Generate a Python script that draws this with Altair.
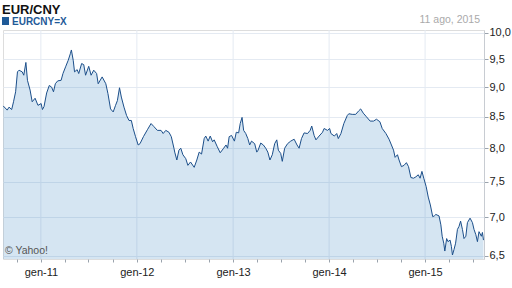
import altair as alt
import pandas as pd

dates = [
    "2010-08-11", "2010-08-26", "2010-09-02", "2010-09-12", "2010-09-19", "2010-09-27",
    "2010-10-04", "2010-10-10", "2010-10-22", "2010-10-28", "2010-11-05", "2010-11-11",
    "2010-11-21", "2010-11-29", "2010-12-10", "2010-12-21", "2011-01-02", "2011-01-07",
    "2011-01-13", "2011-01-23", "2011-02-02", "2011-02-11", "2011-02-18", "2011-02-25",
    "2011-03-06", "2011-03-19", "2011-03-26", "2011-04-05", "2011-04-15", "2011-04-23",
    "2011-04-27", "2011-05-04", "2011-05-09", "2011-05-19", "2011-05-25", "2011-06-05",
    "2011-06-13", "2011-06-20", "2011-07-02", "2011-07-11", "2011-07-21", "2011-08-01",
    "2011-08-07", "2011-08-22", "2011-09-05", "2011-09-13", "2011-09-23", "2011-10-03",
    "2011-10-12", "2011-10-19", "2011-10-27", "2011-11-03", "2011-11-13", "2011-11-23",
    "2011-12-02", "2011-12-11", "2011-12-18", "2011-12-27", "2012-01-06", "2012-01-13",
    "2012-01-26", "2012-02-10", "2012-02-24", "2012-03-06", "2012-03-19", "2012-04-02",
    "2012-04-10", "2012-04-20", "2012-05-02", "2012-05-11", "2012-05-21", "2012-05-24",
    "2012-06-01", "2012-06-09", "2012-06-16", "2012-06-24", "2012-07-05", "2012-07-13",
    "2012-07-23", "2012-08-06", "2012-08-16", "2012-08-25", "2012-09-03", "2012-09-13",
    "2012-09-19", "2012-09-28", "2012-10-06", "2012-10-15", "2012-10-21", "2012-11-01",
    "2012-11-13", "2012-11-26", "2012-12-05", "2012-12-11", "2012-12-17", "2012-12-26",
    "2013-01-06", "2013-01-13", "2013-01-22", "2013-01-28", "2013-02-04", "2013-02-10",
    "2013-02-18", "2013-02-26", "2013-03-05", "2013-03-12", "2013-03-24", "2013-04-01",
    "2013-04-06", "2013-04-16", "2013-04-26", "2013-05-05", "2013-05-13", "2013-05-21",
    "2013-05-30", "2013-06-08", "2013-06-16", "2013-06-22", "2013-07-01", "2013-07-07",
    "2013-07-16", "2013-07-27", "2013-08-08", "2013-08-21", "2013-09-01", "2013-09-09",
    "2013-09-18", "2013-09-28", "2013-10-11", "2013-10-21", "2013-10-27", "2013-11-05",
    "2013-11-12", "2013-11-24", "2013-12-07", "2013-12-13", "2013-12-26", "2014-01-03",
    "2014-01-08", "2014-01-21", "2014-01-30", "2014-02-05", "2014-02-15", "2014-02-26",
    "2014-03-11", "2014-03-17", "2014-03-30", "2014-04-12", "2014-04-24", "2014-05-01",
    "2014-05-11", "2014-05-23", "2014-06-06", "2014-06-19", "2014-06-30", "2014-07-13",
    "2014-07-22", "2014-08-05", "2014-08-17", "2014-08-26", "2014-09-03", "2014-09-09",
    "2014-09-18", "2014-09-24", "2014-10-03", "2014-10-13", "2014-10-22", "2014-10-30",
    "2014-11-08", "2014-11-18", "2014-11-27", "2014-12-06", "2014-12-13", "2014-12-20",
    "2014-12-27", "2015-01-05", "2015-01-13", "2015-01-21", "2015-01-30", "2015-02-05",
    "2015-02-11", "2015-02-23", "2015-03-02", "2015-03-07", "2015-03-13", "2015-03-17",
    "2015-03-24", "2015-03-29", "2015-04-06", "2015-04-11", "2015-04-15", "2015-04-21",
    "2015-04-27", "2015-05-04", "2015-05-10", "2015-05-16", "2015-05-23", "2015-05-29",
    "2015-06-05", "2015-06-11", "2015-06-21", "2015-06-30", "2015-07-06", "2015-07-13",
    "2015-07-19", "2015-07-25", "2015-08-03", "2015-08-07", "2015-08-11",
]

values = [
    8.68, 8.61, 8.66, 8.62, 8.75, 8.92,
    9.27, 9.30, 9.27, 9.21, 9.44, 9.12,
    8.95, 8.75, 8.81, 8.69, 8.72, 8.62,
    8.67, 8.90, 9.03, 9.00, 8.92, 9.06,
    9.11, 9.12, 9.24, 9.36, 9.48, 9.60,
    9.67, 9.48, 9.27, 9.31, 9.24, 9.42,
    9.40, 9.21, 9.37, 9.21, 9.30, 9.24,
    9.06, 9.18, 9.06, 8.89, 8.63, 8.58,
    8.69, 8.77, 8.99, 8.83, 8.66, 8.52,
    8.44, 8.44, 8.31, 8.18, 8.05, 8.07,
    8.18, 8.29, 8.39, 8.34, 8.28, 8.28,
    8.23, 8.28, 8.25, 8.18, 8.00, 7.94,
    7.82, 7.97, 8.00, 7.90, 7.84, 7.74,
    7.79, 7.71, 7.82, 7.94, 7.91, 8.15,
    8.19, 8.11, 8.19, 8.10, 8.13, 8.03,
    7.93, 8.00, 8.05, 8.00, 8.18, 8.20,
    8.11, 8.25, 8.24, 8.39, 8.49, 8.28,
    8.23, 8.15, 8.05, 8.11, 8.07, 7.94,
    7.97, 8.08, 8.05, 8.00, 7.94, 7.82,
    7.90, 8.07, 8.13, 7.97, 7.92, 7.80,
    8.00, 8.07, 8.11, 8.14, 8.05, 8.00,
    8.15, 8.24, 8.23, 8.28, 8.35, 8.20,
    8.13, 8.19, 8.25, 8.31, 8.28, 8.31,
    8.23, 8.19, 8.23, 8.15, 8.23, 8.39,
    8.52, 8.55, 8.54, 8.54, 8.60, 8.63,
    8.56, 8.50, 8.43, 8.43, 8.46, 8.42,
    8.31, 8.23, 8.14, 8.05, 7.97, 7.86,
    7.90, 7.82, 7.72, 7.74, 7.78, 7.72,
    7.56, 7.55, 7.57, 7.60, 7.55, 7.65,
    7.55, 7.43, 7.28, 7.17, 7.01, 7.02,
    7.04, 7.02, 6.90, 6.75, 6.66, 6.56,
    6.72, 6.68, 6.70, 6.62, 6.51, 6.58,
    6.66, 6.84, 6.88, 6.95, 6.84, 6.72,
    6.75, 6.93, 6.99, 6.93, 6.84, 6.77,
    6.68, 6.81, 6.75, 6.80, 6.70,
]

year_starts = ["2011-01-01", "2012-01-01", "2013-01-01", "2014-01-01", "2015-01-01"]
quarter_ticks = [
    "2010-10-01", "2011-01-01", "2011-04-01", "2011-07-01", "2011-10-01",
    "2012-01-01", "2012-04-01", "2012-07-01", "2012-10-01",
    "2013-01-01", "2013-04-01", "2013-07-01", "2013-10-01",
    "2014-01-01", "2014-04-01", "2014-07-01", "2014-10-01",
    "2015-01-01", "2015-04-01", "2015-07-01",
]
y_ticks = [6.5, 7.0, 7.5, 8.0, 8.5, 9.0, 9.5, 10.0]
y_min, y_max = 6.46, 10.05

title_text = "EUR/CNY"
legend_text = "EURCNY=X"
date_text = "11 ago, 2015"
credit_text = "© Yahoo!"

FONT = "Liberation Sans"
LINE = "#1c4f8a"
FILL = "#2f7bbf"
GRID = "#e4eaf2"

df = pd.DataFrame({"date": pd.to_datetime(dates), "value": values})
years_df = pd.DataFrame({"date": pd.to_datetime(year_starts)})


def dt(s):
    y, m, d = (int(p) for p in s.split("-"))
    return alt.DateTime(year=y, month=m, date=d)


x_enc = alt.X(
    "date:T",
    scale=alt.Scale(domain=[dt("2010-08-10"), dt("2015-08-13")], nice=False),
    axis=alt.Axis(
        values=[dt(s) for s in quarter_ticks],
        labelExpr="month(datum.value) == 0 ? 'gen-' + timeFormat(datum.value, '%y') : ''",
        grid=False,
        domain=False,
        tickSize=3,
        tickColor="#9aa3ad",
        labelPadding=4,
        labelFontSize=11,
        labelFont=FONT,
        labelColor="#222222",
        labelFlush=False,
        labelOverlap=False,
        title=None,
    ),
)

y_enc = alt.Y(
    "value:Q",
    scale=alt.Scale(type="log", domain=[y_min, y_max], nice=False, zero=False),
    axis=alt.Axis(
        orient="right",
        values=y_ticks,
        labelExpr="replace(format(datum.value, '.1f'), '.', ',')",
        grid=True,
        gridColor=GRID,
        domain=True,
        domainColor="#c8ccd2",
        tickSize=4,
        tickColor="#9aa3ad",
        labelPadding=1,
        labelFontSize=11,
        labelFont=FONT,
        labelColor="#222222",
        labelOverlap=False,
        labelFlush=False,
        title=None,
    ),
)

year_rules = alt.Chart(years_df).mark_rule(color=GRID, strokeWidth=1).encode(x=x_enc)

area = alt.Chart(df).mark_area(color=FILL, opacity=0.2).encode(
    x=x_enc, y=y_enc, y2=alt.datum(y_min)
)
line = alt.Chart(df).mark_line(color=LINE, strokeWidth=1).encode(x=x_enc, y=y_enc)

one = alt.Data(values=[{}])

title_mark = alt.Chart(one).mark_text(
    text=title_text, font=FONT, fontSize=13, fontWeight="bold", color="#111111",
    align="left", baseline="alphabetic",
).encode(x=alt.value(-1), y=alt.value(-16))

legend_box = alt.Chart(one).mark_rect(color="#1f5a98").encode(
    x=alt.value(-1), x2=alt.value(6), y=alt.value(-13), y2=alt.value(-5)
)

legend_mark = alt.Chart(one).mark_text(
    text=legend_text, font=FONT, fontSize=10, fontWeight="bold", color="#1f5a98",
    align="left", baseline="alphabetic",
).encode(x=alt.value(9), y=alt.value(-5))

date_mark = alt.Chart(one).mark_text(
    text=date_text, font=FONT, fontSize=10.5, color="#aaaaaa",
    align="right", baseline="alphabetic",
).encode(x=alt.value(477), y=alt.value(-7))

credit_mark = alt.Chart(one).mark_text(
    text=credit_text, font=FONT, fontSize=10.5, color="#555555",
    align="left", baseline="alphabetic",
).encode(x=alt.value(2), y=alt.value(224))

chart = alt.layer(
    year_rules, area, line, credit_mark, title_mark, legend_box, legend_mark, date_mark
).properties(
    width=481,
    height=229,
    padding={"left": 3, "top": 30, "right": 28, "bottom": 29},
    autosize=alt.AutoSizeParams(type="none"),
).configure_view(stroke="#dadde2").configure(background="white")

chart.save("out.html", embed_options={"renderer": "svg", "actions": False})
